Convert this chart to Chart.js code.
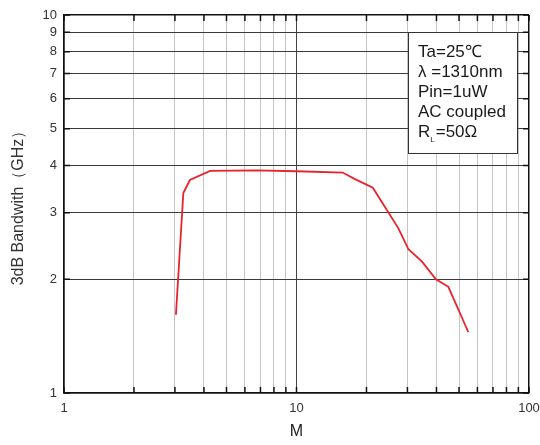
<!DOCTYPE html>
<html>
<head>
<meta charset="utf-8">
<script src="https://cdn.jsdelivr.net/npm/chart.js@4.4.0/dist/chart.umd.min.js"></script>
<style>
  html, body { margin: 0; padding: 0; background: #fff; }
  #wrap { width: 540px; height: 445px; position: relative; }
</style>
</head>
<body>
<div id="wrap"><canvas id="bwChart"></canvas></div>
<script>
// datos
const gainM = [3.03, 3.26, 3.48, 4.25, 6.7, 10, 15.8, 17.85, 21.3, 27.4, 30.3, 34.6, 39.8, 45.0, 54.8];
const bandwidthGHz = [1.61, 3.38, 3.66, 3.87, 3.88, 3.86, 3.83, 3.68, 3.49, 2.73, 2.40, 2.23, 2.0, 1.91, 1.45];
const xTicks = [1, 2, 3, 4, 5, 6, 7, 8, 9, 10, 20, 30, 40, 50, 60, 70, 80, 90, 100];
const xLabels = [1, 10, 100];
const yLabels = [1, 2, 3, 4, 5, 6, 7, 8, 9, 10];
const conditions = ["Ta=25\u2103", "\u03bb =1310nm", "Pin=1uW", "AC coupled", "R|L|=50\u03a9"];

const FONT = "'Liberation Sans', Arial, sans-serif";

// ticks hacia dentro y cuadro de condiciones
const framePlugin = {
  id: "framePlugin",
  afterDraw(chart) {
    const { ctx, chartArea: a, scales } = chart;
    ctx.save();
    ctx.strokeStyle = "#111";
    ctx.lineWidth = 1.5;
    const len = 6;
    scales.y.ticks.forEach(t => {
      const y = scales.y.getPixelForValue(t.value);
      ctx.beginPath();
      ctx.moveTo(a.left, y); ctx.lineTo(a.left + len, y);
      ctx.moveTo(a.right, y); ctx.lineTo(a.right - len, y);
      ctx.stroke();
    });
    scales.x.ticks.forEach(t => {
      const x = scales.x.getPixelForValue(t.value);
      ctx.beginPath();
      ctx.moveTo(x, a.bottom); ctx.lineTo(x, a.bottom - len);
      ctx.moveTo(x, a.top); ctx.lineTo(x, a.top + len);
      ctx.stroke();
    });

    // cuadro
    const bx = 408, by = 32, bw = 109, bh = 121;
    ctx.fillStyle = "#fff";
    ctx.fillRect(bx, by, bw, bh);
    ctx.strokeStyle = "#333";
    ctx.lineWidth = 1;
    ctx.strokeRect(bx + 0.5, by + 0.5, bw, bh);
    ctx.fillStyle = "#1a1a1a";
    ctx.textBaseline = "alphabetic";
    ctx.textAlign = "left";
    conditions.forEach((line, i) => {
      const y = by + 25 + i * 20;
      const parts = line.split("|");
      ctx.font = "17px " + FONT;
      if (parts.length === 3) {
        ctx.fillText(parts[0], bx + 10, y);
        let x = bx + 10 + ctx.measureText(parts[0]).width;
        ctx.font = "8px " + FONT;
        ctx.fillText(parts[1], x, y + 5);
        x += ctx.measureText(parts[1]).width + 1;
        ctx.font = "17px " + FONT;
        ctx.fillText(parts[2], x, y);
      } else {
        ctx.fillText(line, bx + 10, y);
      }
    });
    ctx.restore();
  }
};

const ctx = document.getElementById("bwChart").getContext("2d");
new Chart(ctx, {
  type: "line",
  data: {
    datasets: [{
      data: gainM.map((m, i) => ({ x: m, y: bandwidthGHz[i] })),
      borderColor: "#e8232b",
      borderWidth: 1.8,
      pointRadius: 0,
      tension: 0,
      fill: false
    }]
  },
  options: {
    responsive: true,
    maintainAspectRatio: false,
    animation: false,
    layout: { padding: { left: 0, top: 15, right: 11, bottom: 0 } },
    plugins: {
      legend: { display: false },
      tooltip: { enabled: false }
    },
    scales: {
      x: {
        type: "logarithmic",
        min: 1,
        max: 100,
        afterBuildTicks: s => { s.ticks = xTicks.map(v => ({ value: v })); },
        afterFit: s => { s.height = 52; s.paddingLeft = 0; s.paddingRight = 0; },
        border: { display: true, color: "#111", width: 1.5 },
        grid: {
          drawTicks: false,
          color: c => {
            const v = c.tick && c.tick.value;
            if (v === 1 || v === 100) return "#111";
            if (v === 10) return "#444";
            return "#c4c4c4";
          },
          lineWidth: c => {
            const v = c.tick && c.tick.value;
            return (v === 1 || v === 100) ? 1.5 : 1;
          }
        },
        ticks: {
          autoSkip: false,
          maxRotation: 0,
          padding: 8,
          color: "#333",
          font: { family: FONT, size: 13 },
          callback: v => xLabels.includes(v) ? String(v) : ""
        },
        title: {
          display: true,
          text: "M",
          color: "#222",
          font: { family: FONT, size: 16 },
          padding: { top: 6 }
        }
      },
      y: {
        type: "logarithmic",
        min: 1,
        max: 10,
        afterBuildTicks: s => { s.ticks = yLabels.map(v => ({ value: v })); },
        afterFit: s => { s.width = 64; s.paddingTop = 0; s.paddingBottom = 0; },
        border: { display: true, color: "#111", width: 1.5 },
        grid: {
          drawTicks: false,
          color: c => {
            const v = c.tick && c.tick.value;
            if (v === 1 || v === 10) return "#111";
            return "#3a3a3a";
          },
          lineWidth: c => {
            const v = c.tick && c.tick.value;
            return (v === 1 || v === 10) ? 1.5 : 1;
          }
        },
        ticks: {
          autoSkip: false,
          padding: 7,
          color: "#333",
          font: { family: FONT, size: 13 },
          callback: v => yLabels.includes(v) ? String(v) : ""
        },
        title: {
          display: true,
          text: "3dB Bandwith\uff08GHz\uff09",
          color: "#333",
          font: { family: FONT, size: 16 },
          padding: { top: 9, bottom: 4 }
        }
      }
    }
  },
  plugins: [framePlugin]
});
</script>
</body>
</html>
